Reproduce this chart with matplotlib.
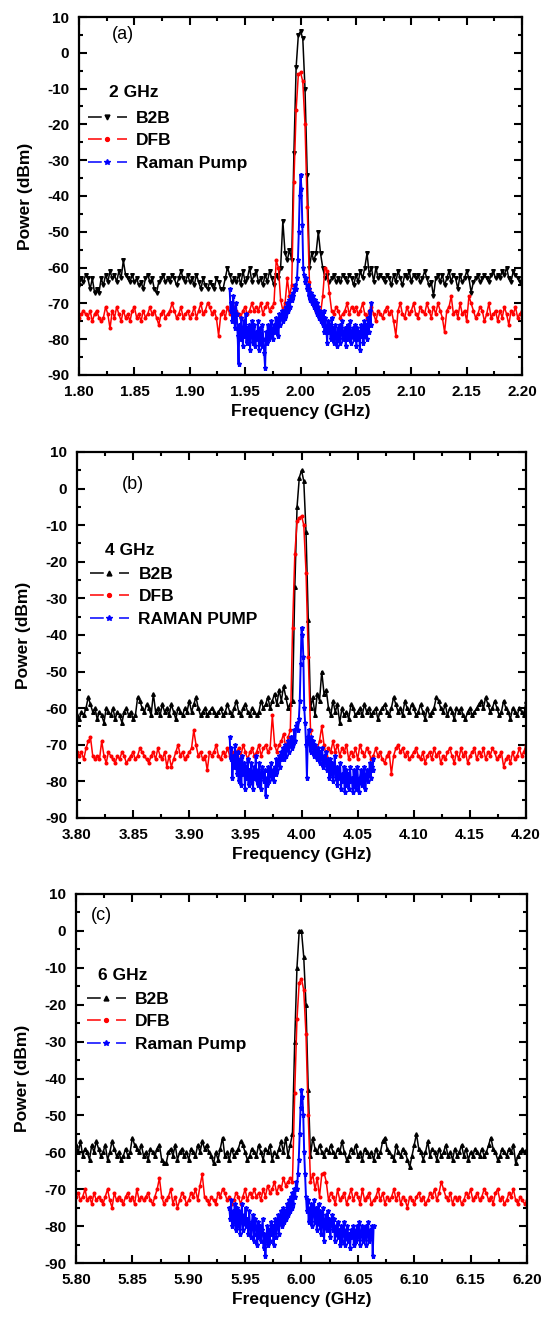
import numpy as np
import matplotlib.pyplot as plt
from matplotlib.lines import Line2D
from matplotlib.ticker import MultipleLocator, FormatStrFormatter

plt.rcParams['font.family'] = ['Liberation Sans', 'DejaVu Sans']
plt.rcParams['axes.unicode_minus'] = False

# ---- panel (a): 2 GHz ----
span_a = (1.80, 2.20)
raman_span_a = (1.936, 2.064)
b2b_a = [
    -65, -63, -64, -62, -63, -66, -63, -67, -66, -67,
    -63, -65, -62, -64, -61, -63, -62, -64, -61, -63,
    -58, -62, -63, -64, -62, -64, -63, -65, -64, -66,
    -63, -62, -64, -63, -66, -67, -64, -63, -62, -64,
    -63, -64, -62, -63, -65, -63, -61, -63, -64, -62,
    -64, -63, -65, -62, -64, -66, -63, -65, -66, -64,
    -65, -66, -63, -64, -66, -66, -63, -60, -62, -64,
    -63, -64, -62, -65, -61, -64, -63, -60, -64, -62,
    -61, -64, -63, -65, -62, -64, -61, -63, -65, -62,
    -63, -60, -47, -56, -58, -55, -58, -28, -4, 5,
    6, 4, -10, -34, -60, -56, -58, -56, -50, -56,
    -60, -63, -62, -64, -63, -62, -64, -63, -64, -62,
    -63, -64, -62, -63, -65, -62, -64, -61, -63, -60,
    -56, -62, -60, -64, -60, -63, -62, -63, -64, -62,
    -63, -65, -62, -64, -61, -63, -65, -62, -63, -61,
    -64, -62, -63, -62, -64, -63, -61, -63, -65, -64,
    -68, -63, -62, -64, -62, -65, -63, -61, -64, -62,
    -63, -66, -62, -64, -63, -61, -63, -67, -64, -63,
    -62, -64, -63, -62, -63, -64, -62, -61, -63, -62,
    -63, -61, -62, -60, -63, -64, -61, -62, -63, -64,
    -63]
dfb_a = [
    -74, -73, -72, -73, -74, -72, -75, -73, -72, -74,
    -75, -74, -71, -73, -77, -72, -74, -71, -73, -75,
    -72, -74, -73, -75, -72, -71, -74, -73, -75, -72,
    -74, -73, -71, -73, -72, -74, -76, -73, -72, -74,
    -73, -72, -70, -72, -74, -73, -71, -74, -73, -72,
    -74, -73, -71, -74, -72, -70, -73, -72, -70, -71,
    -73, -72, -74, -79, -73, -72, -74, -71, -73, -70,
    -71, -72, -73, -74, -72, -71, -73, -72, -70, -72,
    -71, -72, -70, -73, -71, -70, -72, -71, -70, -58,
    -60, -69, -72, -70, -63, -68, -65, -36, -16, -6,
    -5.5, -8, -20, -43, -64, -68, -70, -72, -71, -73,
    -68, -60, -61, -67, -72, -73, -71, -72, -74, -73,
    -72, -70, -73, -71, -72, -71, -73, -72, -70, -73,
    -74, -72, -71, -73, -75, -72, -73, -74, -72, -71,
    -73, -72, -75, -79, -72, -70, -73, -74, -71, -73,
    -72, -70, -73, -74, -71, -72, -73, -70, -72, -74,
    -71, -73, -70, -72, -74, -78, -72, -71, -68, -73,
    -72, -74, -70, -73, -72, -75, -68, -70, -72, -74,
    -73, -71, -72, -75, -73, -70, -74, -73, -72, -75,
    -72, -74, -71, -73, -76, -72, -73, -71, -74, -73,
    -72]
raman_a = [
    -66, -72, -70, -75, -68, -74, -77, -70, -73, -79,
    -87, -76, -80, -74, -78, -82, -75, -79, -73, -81,
    -77, -80, -76, -83, -78, -75, -81, -79, -76, -82,
    -78, -80, -75, -83, -77, -79, -82, -76, -80, -84,
    -88, -78, -81, -76, -80, -77, -79, -75, -78, -80,
    -76, -78, -74, -77, -75, -79, -73, -76, -74, -72,
    -75, -72, -74, -71, -73, -70, -72, -69, -71, -68,
    -69, -67, -68, -66, -65, -66, -63, -58, -50, -40,
    -34, -38, -48, -60, -62, -64, -63, -66, -65, -68,
    -66, -69, -67, -70, -68, -71, -69, -72, -70, -73,
    -71, -74, -72, -75, -73, -76, -72, -78, -74, -77,
    -81, -75, -78, -76, -80, -74, -79, -77, -81, -76,
    -79, -82, -77, -80, -76, -81, -78, -75, -80, -79,
    -77, -82, -78, -76, -80, -79, -75, -81, -78, -77,
    -80, -76, -79, -82, -77, -80, -78, -83, -76, -79,
    -77, -81, -75, -79, -76, -80, -74, -78, -72, -76,
    -70]

# ---- panel (b): 4 GHz ----
span_b = (3.80, 4.20)
raman_span_b = (3.936, 4.064)
b2b_b = [
    -62, -63, -61, -62, -60, -57, -59, -61, -60, -63,
    -61, -62, -64, -60, -61, -62, -60, -63, -61, -62,
    -64, -61, -60, -62, -61, -63, -62, -57, -58, -60,
    -61, -59, -60, -62, -56, -61, -60, -62, -59, -61,
    -60, -62, -59, -61, -63, -60, -61, -62, -60, -61,
    -58, -61, -59, -57, -60, -62, -61, -60, -62, -61,
    -60, -61, -62, -61, -60, -62, -61, -59, -61, -62,
    -60, -58, -61, -62, -60, -59, -61, -62, -60, -61,
    -62, -61, -58, -60, -59, -57, -60, -58, -56, -59,
    -55, -58, -54, -57, -60, -59, -58, -27, -5, 3,
    5, 2, -12, -36, -60, -57, -62, -56, -58, -50,
    -56, -55, -60, -62, -58, -61, -59, -64, -60, -62,
    -61, -63, -59, -60, -62, -61, -60, -62, -59, -61,
    -60, -62, -61, -60, -63, -61, -60, -59, -61, -62,
    -60, -57, -59, -61, -60, -62, -58, -60, -61, -59,
    -60, -62, -61, -59, -61, -63, -60, -62, -61, -60,
    -57, -58, -60, -61, -59, -62, -60, -61, -63, -60,
    -61, -60, -62, -63, -61, -60, -62, -61, -60, -59,
    -58, -60, -57, -59, -61, -60, -58, -60, -62, -61,
    -58, -60, -61, -63, -60, -61, -62, -60, -61, -62,
    -58]
dfb_b = [
    -72, -73, -72, -74, -71, -69, -68, -73, -74, -73,
    -74, -69, -73, -75, -72, -73, -74, -75, -73, -74,
    -72, -73, -75, -74, -73, -72, -74, -73, -71, -72,
    -73, -74, -75, -73, -72, -74, -71, -73, -74, -72,
    -76, -73, -76, -74, -72, -70, -73, -72, -74, -73,
    -72, -71, -66, -70, -73, -72, -74, -73, -77, -72,
    -73, -72, -70, -73, -74, -72, -73, -71, -73, -72,
    -74, -72, -71, -73, -70, -72, -74, -72, -71, -73,
    -72, -70, -73, -71, -70, -72, -71, -62, -70, -72,
    -70, -69, -67, -71, -68, -66, -38, -18, -9, -8,
    -7.5, -10, -23, -46, -66, -70, -72, -71, -69, -65,
    -70, -73, -71, -72, -69, -72, -70, -73, -71, -72,
    -70, -74, -72, -73, -71, -74, -70, -72, -73, -71,
    -72, -74, -73, -71, -73, -72, -74, -75, -73, -72,
    -78, -73, -71, -70, -72, -71, -73, -72, -74, -73,
    -72, -71, -73, -74, -72, -75, -73, -72, -74, -71,
    -73, -72, -75, -73, -74, -72, -71, -73, -75, -72,
    -74, -71, -73, -72, -75, -73, -72, -71, -74, -72,
    -73, -71, -74, -72, -73, -71, -72, -74, -73, -72,
    -76, -74, -73, -75, -72, -74, -73, -71, -73, -72,
    -70]
raman_b = [
    -68, -74, -71, -79, -73, -76, -70, -75, -78, -72,
    -80, -74, -77, -81, -73, -78, -75, -82, -76, -79,
    -74, -81, -77, -80, -75, -78, -82, -76, -79, -73,
    -80, -77, -81, -75, -79, -82, -76, -78, -80, -77,
    -84, -79, -81, -76, -80, -78, -75, -79, -77, -80,
    -76, -78, -74, -77, -75, -73, -76, -72, -74, -71,
    -74, -72, -70, -73, -71, -69, -72, -70, -68, -71,
    -68, -70, -66, -69, -65, -64, -66, -63, -58, -48,
    -38, -40, -46, -60, -64, -70, -79, -68, -66, -70,
    -72, -68, -71, -69, -73, -70, -72, -74, -71, -73,
    -75, -72, -74, -71, -76, -73, -75, -72, -77, -74,
    -76, -79, -74, -78, -75, -80, -77, -73, -79, -76,
    -81, -77, -79, -75, -82, -78, -80, -76, -83, -79,
    -77, -81, -78, -82, -76, -80, -79, -83, -77, -81,
    -78, -82, -76, -80, -83, -79, -77, -81, -78, -80,
    -76, -82, -79, -77, -80, -78, -75, -79, -76, -77,
    -74]

# ---- panel (c): 6 GHz ----
span_c = (5.80, 6.20)
raman_span_c = (5.936, 6.064)
b2b_c = [
    -58, -60, -57, -61, -59, -60, -62, -58, -60, -57,
    -59, -61, -60, -58, -62, -60, -57, -59, -61, -60,
    -62, -61, -59, -61, -60, -56, -58, -59, -60, -58,
    -61, -60, -62, -59, -60, -61, -59, -58, -62, -63,
    -63, -60, -59, -61, -58, -62, -60, -59, -61, -60,
    -62, -59, -60, -61, -58, -60, -57, -59, -58, -60,
    -61, -63, -60, -62, -59, -56, -61, -60, -62, -59,
    -61, -60, -59, -57, -58, -60, -62, -61, -59, -60,
    -61, -58, -60, -62, -59, -60, -58, -62, -60, -61,
    -59, -57, -60, -56, -61, -58, -55, -30, -10, 0,
    0, -7, -20, -43, -61, -56, -59, -60, -58, -60,
    -61, -59, -60, -58, -60, -61, -59, -60, -57, -60,
    -62, -61, -59, -60, -58, -61, -60, -62, -59, -60,
    -61, -60, -62, -59, -61, -60, -57, -56, -59, -60,
    -61, -62, -58, -60, -61, -59, -60, -62, -64, -61,
    -58, -55, -59, -60, -62, -60, -57, -61, -59, -60,
    -62, -59, -61, -60, -58, -61, -60, -62, -59, -61,
    -60, -58, -61, -59, -62, -60, -61, -59, -60, -61,
    -59, -61, -60, -58, -56, -59, -60, -62, -61, -59,
    -60, -61, -59, -60, -58, -63, -61, -60, -59, -60,
    -59]
dfb_c = [
    -72, -71, -73, -72, -70, -73, -72, -74, -71, -73,
    -72, -73, -74, -72, -70, -73, -75, -71, -73, -72,
    -73, -74, -72, -71, -73, -72, -74, -70, -73, -72,
    -73, -72, -71, -73, -74, -72, -70, -67, -72, -74,
    -73, -72, -70, -74, -72, -75, -73, -71, -72, -74,
    -73, -71, -72, -70, -73, -69, -66, -72, -73, -74,
    -72, -73, -74, -71, -72, -70, -71, -73, -72, -74,
    -73, -71, -72, -74, -72, -70, -73, -71, -72, -70,
    -72, -71, -73, -70, -72, -69, -71, -70, -68, -71,
    -69, -70, -67, -69, -68, -67, -68, -44, -24, -14,
    -13, -16, -28, -50, -68, -66, -70, -67, -72, -66,
    -65.5, -68, -73, -71, -72, -74, -70, -73, -72, -71,
    -74, -72, -70, -73, -71, -72, -74, -70, -73, -72,
    -71, -74, -73, -72, -70, -73, -71, -74, -72, -73,
    -72, -70, -73, -71, -74, -72, -73, -75, -72, -73,
    -74, -72, -71, -73, -72, -74, -73, -71, -72, -70,
    -73, -71, -68, -70, -72, -73, -71, -74, -72, -73,
    -72, -74, -73, -71, -72, -70, -73, -72, -71, -73,
    -72, -70, -71, -73, -72, -74, -71, -70, -73, -72,
    -74, -73, -71, -72, -70, -73, -74, -72, -73, -74,
    -73]
raman_c = [
    -75, -78, -73, -80, -76, -79, -74, -81, -77, -75,
    -80, -76, -82, -78, -74, -81, -77, -79, -75, -80,
    -78, -82, -76, -80, -83, -79, -77, -84, -80, -78,
    -82, -85, -79, -83, -80, -84, -81, -78, -86, -82,
    -88, -83, -80, -85, -81, -84, -79, -82, -80, -85,
    -81, -78, -83, -80, -77, -82, -79, -76, -80, -78,
    -75, -79, -76, -78, -74, -77, -73, -76, -72, -75,
    -71, -74, -70, -72, -68, -70, -66, -62, -55, -48,
    -43, -45, -50, -60, -66, -72, -76, -73, -79, -75,
    -78, -74, -80, -76, -73, -79, -75, -81, -77, -74,
    -80, -76, -82, -78, -75, -84, -79, -77, -81, -76,
    -80, -78, -83, -79, -77, -81, -78, -84, -80, -82,
    -79, -83, -81, -85, -80, -84, -82, -79, -85, -81,
    -83, -80, -84, -82, -86, -81, -83, -80, -85, -82,
    -81, -84, -80, -83, -79, -85, -82, -80, -84, -81,
    -83, -80, -85, -82, -79, -84, -81, -83, -80, -88,
    -80]

tags = ['(a)', '(b)', '(c)']
titles = ['2 GHz', '4 GHz', '6 GHz']
pump_labels = ['Raman Pump', 'RAMAN PUMP', 'Raman Pump']
b2b_markers = ['v', '^', '^']

# layout (figure fractions) and text placement (axes fractions)
rects = [[0.145, 0.7155, 0.813, 0.2716],
         [0.1413, 0.3794, 0.824, 0.2777],
         [0.1394, 0.0417, 0.8275, 0.280]]
tag_pos = [(0.075, 0.95), (0.100, 0.91), (0.033, 0.943)]
title_pos = [(0.068, 0.788), (0.062, 0.732), (0.049, 0.780)]
leg_pos = [(0.02, 0.738), (0.029, 0.686), (0.024, 0.735)]

spans = [span_a, span_b, span_c]
raman_spans = [raman_span_a, raman_span_b, raman_span_c]
b2b_all = [b2b_a, b2b_b, b2b_c]
dfb_all = [dfb_a, dfb_b, dfb_c]
raman_all = [raman_a, raman_b, raman_c]

fig = plt.figure(figsize=(5.45, 13.18), dpi=100)

for k in range(3):
    ax = fig.add_axes(rects[k])
    f_main = np.linspace(spans[k][0], spans[k][1], len(b2b_all[k]))
    f_pump = np.linspace(raman_spans[k][0], raman_spans[k][1], len(raman_all[k]))

    ax.plot(f_main, b2b_all[k], color='black', lw=1.1, marker=b2b_markers[k], ms=2.6)
    ax.plot(f_main, dfb_all[k], color='red', lw=1.1, marker='o', ms=1.9)
    ax.plot(f_pump, raman_all[k], color='blue', lw=1.4, marker='*', ms=3.6)

    ax.set_xlim(spans[k])
    ax.set_ylim(-90, 10)
    ax.xaxis.set_major_locator(MultipleLocator(0.05))
    ax.xaxis.set_minor_locator(MultipleLocator(0.025))
    ax.xaxis.set_major_formatter(FormatStrFormatter('%.2f'))
    ax.yaxis.set_major_locator(MultipleLocator(10))
    ax.yaxis.set_minor_locator(MultipleLocator(5))
    ax.tick_params(which='both', direction='in', top=True, right=True, width=1.5)
    ax.tick_params(which='major', length=6, labelsize=11, pad=7)
    ax.tick_params(which='minor', length=3)
    for lab in ax.get_xticklabels() + ax.get_yticklabels():
        lab.set_fontweight('bold')
    for sp in ax.spines.values():
        sp.set_linewidth(1.6)

    ax.set_xlabel('Frequency (GHz)', fontsize=12.5, fontweight='bold', labelpad=4)
    ax.set_ylabel('Power (dBm)', fontsize=12.5, fontweight='bold', labelpad=10)

    ax.text(tag_pos[k][0], tag_pos[k][1], tags[k], transform=ax.transAxes,
            fontsize=13, ha='left', va='center')
    ax.text(title_pos[k][0], title_pos[k][1], titles[k], transform=ax.transAxes,
            fontsize=12.5, fontweight='bold', ha='left', va='center')

    handles = [
        Line2D([], [], color='black', lw=1.1, dashes=(9, 10), marker=b2b_markers[k], ms=3.5),
        Line2D([], [], color='red', lw=1.1, dashes=(9, 10), marker='o', ms=2.8),
        Line2D([], [], color='blue', lw=1.1, dashes=(9, 10), marker='*', ms=4),
    ]
    ax.legend(handles, ['B2B', 'DFB', pump_labels[k]], loc='upper left',
              bbox_to_anchor=leg_pos[k], frameon=False, numpoints=1,
              prop={'size': 12.5, 'weight': 'bold'}, handlelength=2.24,
              handletextpad=0.55, labelspacing=0.42, borderpad=0, borderaxespad=0)

fig.savefig('out.png', dpi=100)
